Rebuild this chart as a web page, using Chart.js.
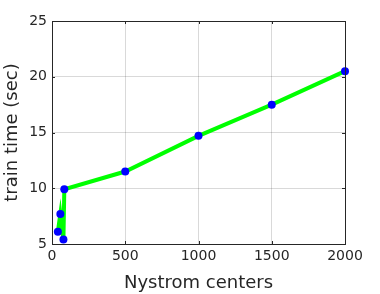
<!DOCTYPE html>
<html>
<head>
<meta charset="utf-8">
<script src="https://cdn.jsdelivr.net/npm/chart.js@4/dist/chart.umd.min.js"></script>
<style>
  html, body { margin: 0; padding: 0; background: #fff; }
  #wrap { width: 380px; height: 294px; }
</style>
</head>
<body>
<div id="wrap"><canvas id="c" width="380" height="294"></canvas></div>
<script>
// data
const centers = [40, 57, 78, 84, 500, 1000, 1500, 2000];
const trainTime = [6.1, 7.7, 5.4, 9.9, 11.5, 14.7, 17.5, 20.5];
const xTicks = [0, 500, 1000, 1500, 2000];
const yTicks = [5, 10, 15, 20, 25];

const points = centers.map((x, i) => ({ x: x, y: trainTime[i] }));

// frame round the plot area, matlab style
const boxPlugin = {
  id: 'box',
  afterDraw(chart) {
    const a = chart.chartArea;
    const ctx = chart.ctx;
    ctx.save();
    ctx.strokeStyle = '#262626';
    ctx.lineWidth = 1;
    ctx.strokeRect(a.left + 0.5, a.top + 0.5, a.right - a.left, a.bottom - a.top);
    // small inward ticks
    ctx.beginPath();
    chart.scales.x.ticks.forEach(t => {
      const px = Math.round(chart.scales.x.getPixelForValue(t.value)) + 0.5;
      ctx.moveTo(px, a.bottom); ctx.lineTo(px, a.bottom - 3);
      ctx.moveTo(px, a.top); ctx.lineTo(px, a.top + 3);
    });
    chart.scales.y.ticks.forEach(t => {
      const py = Math.round(chart.scales.y.getPixelForValue(t.value)) + 0.5;
      ctx.moveTo(a.left, py); ctx.lineTo(a.left + 3, py);
      ctx.moveTo(a.right, py); ctx.lineTo(a.right - 3, py);
    });
    ctx.stroke();
    ctx.restore();
  }
};

new Chart(document.getElementById('c'), {
  type: 'scatter',
  data: {
    datasets: [{
      data: points,
      showLine: true,
      clip: false,
      borderColor: '#00ff00',
      borderWidth: 4,
      pointBackgroundColor: '#0000ff',
      pointBorderColor: '#0000ff',
      pointRadius: 4,
      pointBorderWidth: 0,
      tension: 0
    }]
  },
  options: {
    responsive: false,
    animation: false,
    layout: { padding: { top: 21, right: 35, left: 2, bottom: 0 } },
    plugins: {
      legend: { display: false },
      tooltip: { enabled: false }
    },
    scales: {
      x: {
        type: 'linear',
        min: 0,
        max: 2000,
        afterBuildTicks: s => { s.ticks = xTicks.map(v => ({ value: v })); },
        afterFit: s => { s.height = 50; },
        grid: { color: 'rgba(0,0,0,0.15)', drawTicks: false },
        border: { display: false },
        ticks: {
          color: '#262626',
          font: { family: 'DejaVu Sans', size: 14 },
          padding: 4,
          maxRotation: 0,
          callback: v => String(v)
        },
        title: {
          display: true,
          text: 'Nystrom centers',
          color: '#262626',
          font: { family: 'DejaVu Sans', size: 18 },
          padding: { top: 0, bottom: 0 }
        }
      },
      y: {
        min: 5,
        max: 25,
        afterBuildTicks: s => { s.ticks = yTicks.map(v => ({ value: v })); },
        afterFit: s => { s.width = 50; },
        grid: { color: 'rgba(0,0,0,0.15)', drawTicks: false },
        border: { display: false },
        ticks: {
          color: '#262626',
          font: { family: 'DejaVu Sans', size: 14 },
          padding: 5,
          callback: v => String(v)
        },
        title: {
          display: true,
          text: 'train time (sec)',
          color: '#262626',
          font: { family: 'DejaVu Sans', size: 18 },
          padding: { top: 0, bottom: 0 }
        }
      }
    }
  },
  plugins: [boxPlugin]
});
</script>
</body>
</html>
